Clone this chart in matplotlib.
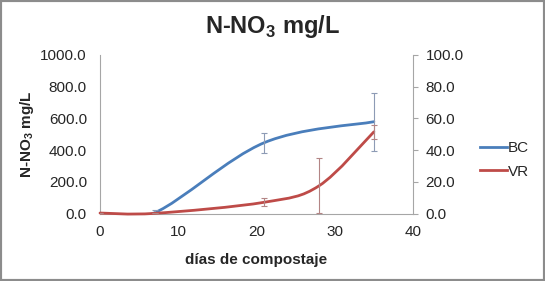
import matplotlib.pyplot as plt
import numpy as np
from matplotlib.path import Path
from matplotlib.patches import PathPatch, Rectangle
from matplotlib.ticker import FormatStrFormatter

plt.rcParams["font.family"] = ["Liberation Sans", "DejaVu Sans"]
plt.rcParams["mathtext.fontset"] = "custom"
plt.rcParams["mathtext.rm"] = "Liberation Sans:bold"
plt.rcParams["mathtext.bf"] = "Liberation Sans:bold"

# datos
dias_bc = [0, 7, 21, 35]
bc = [0, 5, 447, 579]  # mg/L, eje izquierdo
bc_err = [0, 20, 64, 182]

dias_vr = [0, 7, 21, 28, 35]
vr = [0.3, 0.1, 7.1, 17.5, 51.5]  # eje derecho
vr_err = [0, 0, 2.5, 17.3, 4.2]

azul = "#4a7ebb"
rojo = "#be4b48"
gris = "#a6a6a6"
texto = "#262626"


def curva_suave(x, y):
    # curva tipo Excel: Catmull-Rom pasado a segmentos Bezier cubicos
    p = np.column_stack([x, y]).astype(float)
    p = np.vstack([p[0], p, p[-1]])
    verts = [p[1]]
    codes = [Path.MOVETO]
    for i in range(1, len(p) - 2):
        c1 = p[i] + (p[i + 1] - p[i - 1]) / 6
        c2 = p[i + 1] - (p[i + 2] - p[i]) / 6
        verts += [c1, c2, p[i + 1]]
        codes += [Path.CURVE4] * 3
    return Path(verts, codes)


fig = plt.figure(figsize=(5.45, 2.81), dpi=100)
ax = fig.add_axes([0.1835, 0.2402, 0.5743, 0.5641])
ax2 = ax.twinx()

ax.add_patch(PathPatch(curva_suave(dias_bc, bc), fill=False, edgecolor=azul,
                       lw=2.0, capstyle="round"))
ax.errorbar(dias_bc, bc, yerr=bc_err, fmt="none", ecolor="#8d9bb5",
            elinewidth=0.8, capsize=2.2, capthick=0.8)

ax2.add_patch(PathPatch(curva_suave(dias_vr, vr), fill=False, edgecolor=rojo,
                        lw=2.0, capstyle="round", clip_on=False))
ax2.errorbar(dias_vr, vr, yerr=vr_err, fmt="none", ecolor="#b38585",
             elinewidth=0.8, capsize=2.2, capthick=0.8)

ax.set_xlim(0, 40)
ax.set_ylim(0, 1000)
ax2.set_ylim(0, 100)
ax.set_xticks(np.arange(0, 41, 10))
ax.set_yticks(np.arange(0, 1001, 200))
ax2.set_yticks(np.arange(0, 101, 20))
ax.yaxis.set_major_formatter(FormatStrFormatter("%.1f"))
ax2.yaxis.set_major_formatter(FormatStrFormatter("%.1f"))

for a in (ax, ax2):
    for s in a.spines.values():
        s.set_visible(False)
ax.spines["left"].set_visible(True)
ax.spines["bottom"].set_visible(True)
ax2.spines["right"].set_visible(True)
for s in (ax.spines["left"], ax.spines["bottom"], ax2.spines["right"]):
    s.set_color(gris)
    s.set_linewidth(0.8)

ax.tick_params(axis="x", length=0, pad=8, labelsize=11, labelcolor=texto)
ax.tick_params(axis="y", length=0, pad=9.4, labelsize=11, labelcolor=texto)
ax2.tick_params(axis="y", length=3.6, width=0.8, color=gris, pad=5.5,
                labelsize=11, labelcolor=texto)

fig.text(0.5, 1 - 33 / 281, "N-NO$_3$ mg/L", ha="center", va="baseline",
         fontsize=17, fontweight="bold", color=texto)
fig.text(27 / 545, 1 - 134 / 281, "N-NO$_3$ mg/L", ha="center", va="center",
         rotation=90, fontsize=11, fontweight="bold", color=texto)
fig.text(256 / 545, 1 - 260 / 281, "días de compostaje", ha="center",
         va="center", fontsize=11, fontweight="bold", color=texto)

h_bc, = ax.plot([], [], color=azul, lw=2.0)
h_vr, = ax.plot([], [], color=rojo, lw=2.0)
fig.legend([h_bc, h_vr], ["BC", "VR"], loc="center left",
           bbox_to_anchor=(480 / 545, 1 - 159.8 / 281), frameon=False,
           borderpad=0, borderaxespad=0, handlelength=1.77,
           handletextpad=0.05, labelspacing=0.64, fontsize=11,
           labelcolor=texto)

fig.patches.append(Rectangle((0, 0), 1, 1, transform=fig.transFigure,
                             fill=False, edgecolor="#8c8c8c", lw=3))

fig.savefig("out.png", dpi=100)
